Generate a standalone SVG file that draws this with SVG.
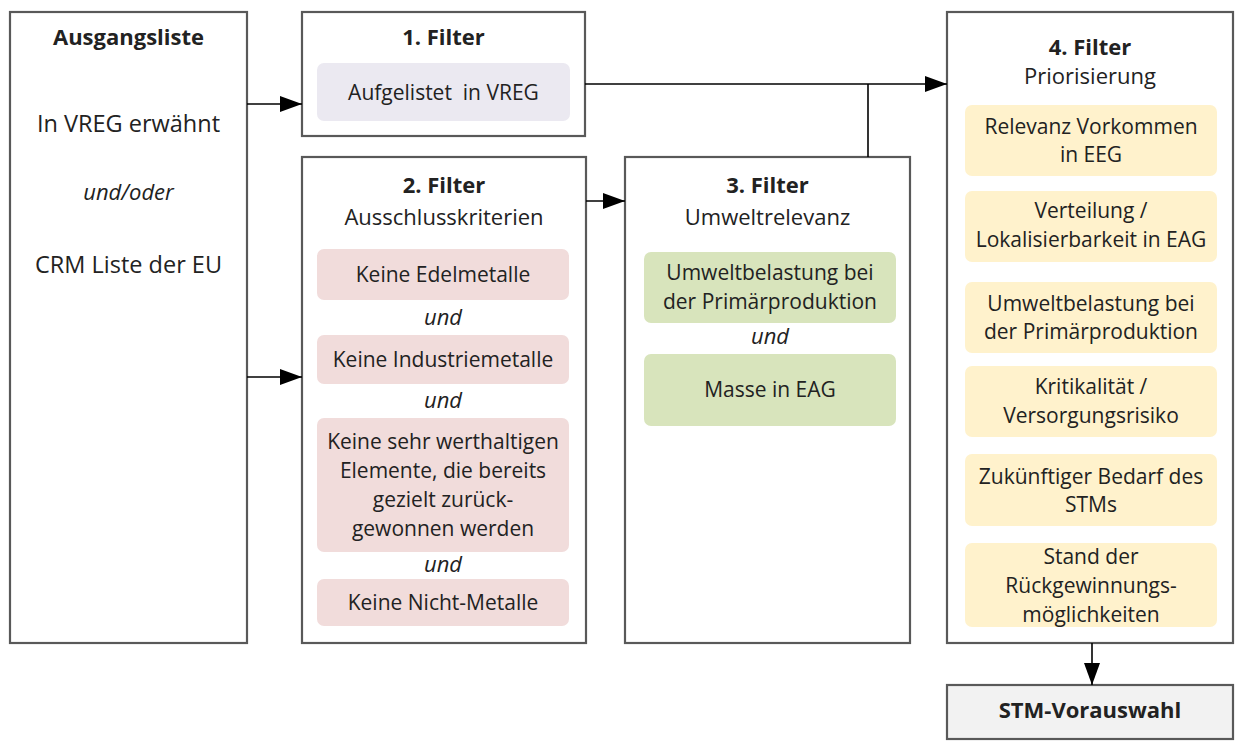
<svg xmlns="http://www.w3.org/2000/svg" width="1236" height="741" viewBox="0 0 1236 741">
<defs>
<marker id="arr" markerUnits="userSpaceOnUse" markerWidth="24" markerHeight="16" refX="22" refY="8" orient="auto">
<path d="M0,0 L22,8 L0,16 Z" fill="#000"/>
</marker>
</defs>
<style>
.box{fill:#fff;stroke:#595959;stroke-width:2.2}
.t{font-family:"Open Sans","Liberation Sans",sans-serif;font-size:22px;fill:#222;text-anchor:middle}
.b{font-weight:bold}
.i{font-style:italic;font-size:22px}
.p{font-size:21px}
.a{font-size:23.5px}
.c{stroke:#000;stroke-width:1.6;fill:none}
.f1{fill:#ebe9f1}
.f2{fill:#f1dcdb}
.f3{fill:#d8e4bc}
.f4{fill:#fff2cc}
</style>
<rect width="1236" height="741" fill="#fff"/>
<g id="ausgangsliste">
<rect class="box" x="10" y="12" width="237" height="631"/>
<text class="t b" x="128.5" y="45">Ausgangsliste</text>
<text class="t a" x="128.5" y="132">In VREG erwähnt</text>
<text class="t i" x="128.5" y="200">und/oder</text>
<text class="t a" x="128.5" y="273">CRM Liste der EU</text>
</g>
<g id="filter1">
<rect class="box" x="302" y="12" width="283" height="124"/>
<text class="t b" x="443.5" y="45">1. Filter</text>
<rect class="f1" x="317" y="63" width="253" height="58" rx="7"/>
<text class="t p" x="443.5" y="100" xml:space="preserve" style="white-space:pre">Aufgelistet  in VREG</text>
</g>
<g id="filter2">
<rect class="box" x="302" y="157" width="284" height="486"/>
<text class="t b" x="444" y="193">2. Filter</text>
<text class="t" x="444" y="225">Ausschlusskriterien</text>
<rect class="f2" x="317" y="249" width="252" height="51" rx="7"/>
<text class="t p" x="443" y="282">Keine Edelmetalle</text>
<text class="t i" x="443" y="325">und</text>
<rect class="f2" x="317" y="335" width="252" height="49" rx="7"/>
<text class="t p" x="443" y="367">Keine Industriemetalle</text>
<text class="t i" x="443" y="408">und</text>
<rect class="f2" x="317" y="418" width="252" height="134" rx="7"/>
<text class="t p" x="443" y="449">Keine sehr werthaltigen</text>
<text class="t p" x="443" y="478">Elemente, die bereits</text>
<text class="t p" x="443" y="507">gezielt zurück-</text>
<text class="t p" x="443" y="536">gewonnen werden</text>
<text class="t i" x="443" y="572">und</text>
<rect class="f2" x="317" y="579" width="252" height="47" rx="7"/>
<text class="t p" x="443" y="610">Keine Nicht-Metalle</text>
</g>
<g id="filter3">
<rect class="box" x="625" y="157" width="285" height="486"/>
<text class="t b" x="767.5" y="193">3. Filter</text>
<text class="t" x="767.5" y="225">Umweltrelevanz</text>
<rect class="f3" x="644" y="252" width="252" height="71" rx="7"/>
<text class="t p" x="770" y="280">Umweltbelastung bei</text>
<text class="t p" x="770" y="309">der Primärproduktion</text>
<text class="t i" x="770" y="344">und</text>
<rect class="f3" x="644" y="354" width="252" height="72" rx="7"/>
<text class="t p" x="770" y="397">Masse in EAG</text>
</g>
<g id="filter4">
<rect class="box" x="947" y="12" width="286" height="631"/>
<text class="t b" x="1090" y="55">4. Filter</text>
<text class="t" x="1090" y="84">Priorisierung</text>
<rect class="f4" x="965" y="105" width="252" height="71" rx="7"/>
<text class="t p" x="1091" y="134">Relevanz Vorkommen</text>
<text class="t p" x="1091" y="162">in EEG</text>
<rect class="f4" x="965" y="191" width="252" height="71" rx="7"/>
<text class="t p" x="1091" y="218">Verteilung /</text>
<text class="t p" x="1091" y="247">Lokalisierbarkeit in EAG</text>
<rect class="f4" x="965" y="282" width="252" height="71" rx="7"/>
<text class="t p" x="1091" y="311">Umweltbelastung bei</text>
<text class="t p" x="1091" y="339">der Primärproduktion</text>
<rect class="f4" x="965" y="366" width="252" height="71" rx="7"/>
<text class="t p" x="1091" y="394">Kritikalität /</text>
<text class="t p" x="1091" y="423">Versorgungsrisiko</text>
<rect class="f4" x="965" y="454" width="252" height="72" rx="7"/>
<text class="t p" x="1091" y="484">Zukünftiger Bedarf des</text>
<text class="t p" x="1091" y="512">STMs</text>
<rect class="f4" x="965" y="543" width="252" height="84" rx="7"/>
<text class="t p" x="1091" y="564">Stand der</text>
<text class="t p" x="1091" y="593">Rückgewinnungs-</text>
<text class="t p" x="1091" y="622">möglichkeiten</text>
</g>
<g id="stm-vorauswahl">
<rect class="box" x="947" y="685" width="286" height="54" style="fill:#f2f2f2"/>
<text class="t b" x="1090" y="718">STM-Vorauswahl</text>
</g>
<g id="connectors">
<line class="c" x1="247" y1="104" x2="302" y2="104" marker-end="url(#arr)"/>
<line class="c" x1="247" y1="377" x2="302" y2="377" marker-end="url(#arr)"/>
<line class="c" x1="586" y1="201" x2="625" y2="201" marker-end="url(#arr)"/>
<line class="c" x1="585" y1="84" x2="947" y2="84" marker-end="url(#arr)"/>
<polyline class="c" points="868,157 868,84"/>
<line class="c" x1="1092" y1="643" x2="1092" y2="685" marker-end="url(#arr)"/>
</g>
</svg>
